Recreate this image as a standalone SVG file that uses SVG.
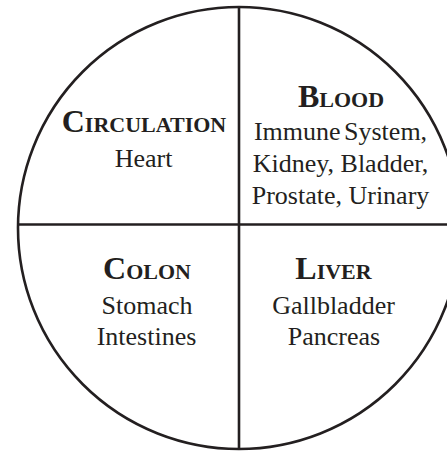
<svg xmlns="http://www.w3.org/2000/svg" width="447" height="453" viewBox="0 0 447 453">
<style>
.ln{fill:none;stroke:#231f20;stroke-width:2.6}
.hd{font-family:"Liberation Serif","Times New Roman",serif;font-weight:bold;fill:#231f20;text-anchor:middle;font-size:22px}
.big{font-size:32px}
.bd{font-family:"Liberation Serif","Times New Roman",serif;fill:#231f20;text-anchor:middle;font-size:26px}
</style>
<rect width="447" height="453" fill="#fff"/>
<g id="frame">
<circle class="ln" cx="239" cy="228" r="221"/>
</g>
<g id="dividers">
<line class="ln" x1="239" y1="7" x2="239" y2="449"/>
<line class="ln" x1="17" y1="224.5" x2="447" y2="224.5"/>
</g>
<g id="circulation">
<text class="hd" x="144" y="131.5"><tspan class="big">C</tspan>IRCULATION</text>
<text class="bd" x="143.5" y="166.5">Heart</text>
</g>
<g id="blood">
<text class="hd" x="341" y="107"><tspan class="big">B</tspan>LOOD</text>
<text class="bd" x="340.5" y="140" word-spacing="-3">Immune System,</text>
<text class="bd" x="340.5" y="172">Kidney, Bladder,</text>
<text class="bd" x="340.5" y="204">Prostate, Urinary</text>
</g>
<g id="colon">
<text class="hd" x="147" y="278.5"><tspan class="big">C</tspan>OLON</text>
<text class="bd" x="147" y="313.5">Stomach</text>
<text class="bd" x="146.5" y="345">Intestines</text>
</g>
<g id="liver">
<text class="hd" x="333.5" y="278.5"><tspan class="big">L</tspan>IVER</text>
<text class="bd" x="333.5" y="313.5">Gallbladder</text>
<text class="bd" x="334" y="345">Pancreas</text>
</g>
</svg>
